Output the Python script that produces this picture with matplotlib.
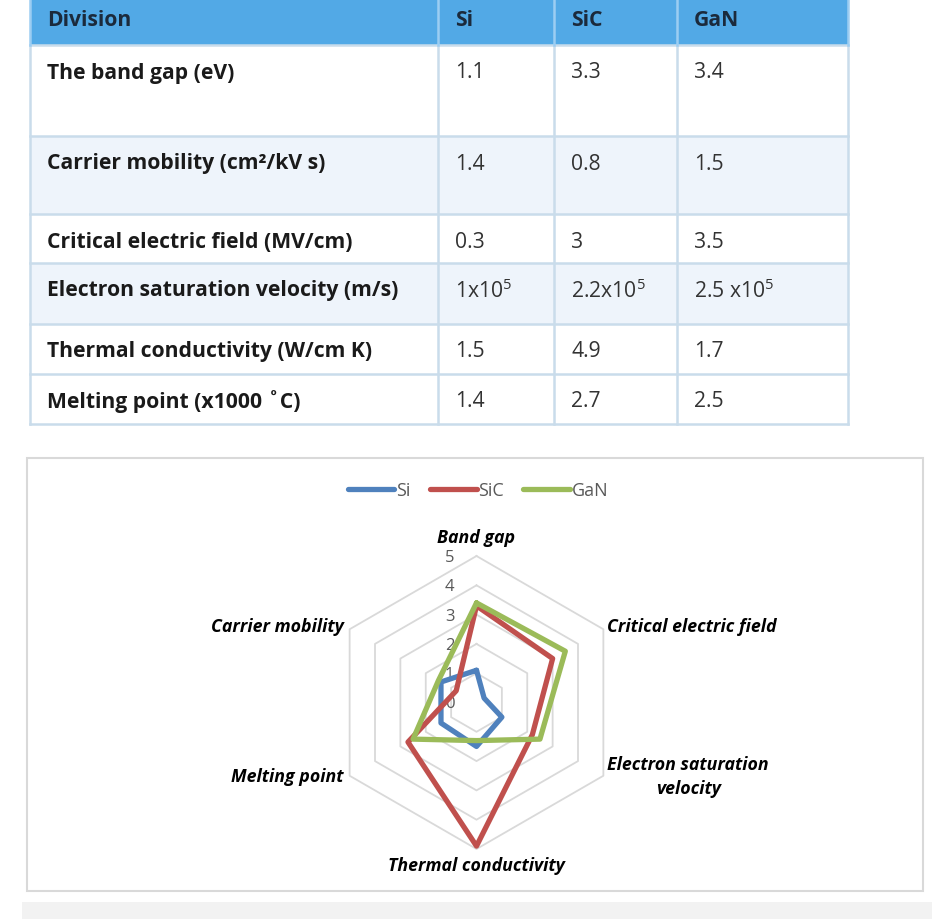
import numpy as np
import matplotlib
matplotlib.use("Agg")
import matplotlib.pyplot as plt
from matplotlib.patches import Rectangle

plt.rcParams['font.family'] = ['Open Sans', 'DejaVu Sans']

# ---- table data ----
header = ["Division", "Si", "SiC", "GaN"]
properties = ["The band gap (eV)", "Carrier mobility (cm²/kV s)",
              "Critical electric field (MV/cm)", "Electron saturation velocity (m/s)",
              "Thermal conductivity (W/cm K)", "Melting point (x1000 ˚C)"]
si_cells = ["1.1", "1.4", "0.3", r"1x10$^{\mathregular{5}}$", "1.5", "1.4"]
sic_cells = ["3.3", "0.8", "3", r"2.2x10$^{\mathregular{5}}$", "4.9", "2.7"]
gan_cells = ["3.4", "1.5", "3.5", r"2.5 x10$^{\mathregular{5}}$", "1.7", "2.5"]

# ---- radar data (as drawn in the chart) ----
spokes = ["Band gap", "Critical electric field", "Electron saturation\nvelocity",
          "Thermal conductivity", "Melting point", "Carrier mobility"]
series_names = ["Si", "SiC", "GaN"]
si = [1.1, 0.3, 1.0, 1.5, 1.4, 1.4]
sic = [3.3, 3.0, 2.2, 4.9, 2.7, 0.8]
gan = [3.4, 3.5, 2.5, 1.3, 2.5, 1.5]
ring_ticks = [0, 1, 2, 3, 4, 5]

# layout (pixels)
W, H = 932, 920
col_x = [30, 438, 554, 677, 848]
row_y = [-2, 46, 137, 215, 264, 325, 375, 425]
row_fill = ['#52A9E6', 'white', '#EEF4FB', 'white', '#EEF4FB', 'white', 'white']
grid_col = '#C9DCEB'
TFS = 15.2

fig = plt.figure(figsize=(W / 100, H / 100), dpi=100)
fig.patch.set_facecolor('white')

canvas = fig.add_axes([0, 0, 1, 1], zorder=0)
canvas.set_xlim(0, W)
canvas.set_ylim(H, 0)
canvas.axis('off')

# table cells
for i in range(len(row_y) - 1):
    canvas.add_patch(Rectangle((col_x[0], row_y[i]), col_x[-1] - col_x[0],
                               row_y[i + 1] - row_y[i], fc=row_fill[i], ec='none'))
for y in row_y[1:]:
    canvas.plot([col_x[0], col_x[-1]], [y, y], color=grid_col, lw=1.8)
for x in col_x:
    canvas.plot([x, x], [row_y[1], row_y[-1]], color=grid_col, lw=1.8)
    canvas.plot([x, x], [row_y[0], row_y[1]], color='#9CCDF2', lw=1.8)

rows = [header] + [[p, a, b, c] for p, a, b, c in zip(properties, si_cells, sic_cells, gan_cells)]
for i, row in enumerate(rows):
    ty = row_y[i] + (22 if i == 0 else 27)
    for j, txt in enumerate(row):
        if i == 0:
            canvas.text(col_x[j] + 17, ty, txt, fontsize=TFS, fontweight='bold',
                        color='#1B2A3C', va='center', ha='left')
        elif j == 0:
            canvas.text(col_x[j] + 17, ty, txt, fontsize=TFS, fontweight='bold',
                        color='#1a1a1a', va='center', ha='left')
        else:
            canvas.text(col_x[j] + 17, ty, txt, fontsize=TFS,
                        color='#333333', va='center', ha='left')

# chart frame and bottom strip
canvas.add_patch(Rectangle((27, 459), 896, 433, fc='none', ec='#D9D9D9', lw=1.5))
canvas.add_patch(Rectangle((22, 903), W - 22, 20, fc='#F2F2F2', ec='none'))

# ---- radar ----
cx, cy, R = 476.5, 703.5, 146.5
ax = fig.add_axes([(cx - R) / W, 1 - (cy + R) / H, 2 * R / W, 2 * R / H],
                  projection='polar', zorder=1)
ax.set_theta_offset(np.pi / 2)
ax.set_theta_direction(-1)
ax.set_ylim(0, 5)
ax.grid(False)
ax.set_xticks([])
ax.set_yticks([])
ax.spines['polar'].set_visible(False)
ax.patch.set_alpha(0)

n = len(spokes)
theta = np.arange(n) * 2 * np.pi / n
closed = np.append(theta, theta[0])

for r in ring_ticks[1:]:
    ax.plot(closed, [r] * (n + 1), color='#D9D9D9', lw=1.3, zorder=1, clip_on=False)

colors = ['#4F81BD', '#C0504D', '#9BBB59']
handles = []
for name, vals, c in zip(series_names, [si, sic, gan], colors):
    h, = ax.plot(closed, vals + vals[:1], color=c, lw=3.8, label=name,
                 solid_joinstyle='round', solid_capstyle='round', zorder=3, clip_on=False)
    handles.append(h)

for r in ring_ticks:
    ax.annotate(str(r), xy=(0, r), xytext=(-27, -1), textcoords='offset pixels',
                ha='center', va='center', color='#595959', fontsize=12, zorder=2)

label_pos = [((0, 19), 'center', 'center'),
             ((4, 3), 'left', 'center'),
             ((4, 0), 'left', 'center'),
             ((0, -16), 'center', 'center'),
             ((-6, 0), 'right', 'center'),
             ((-6, 3), 'right', 'center')]
for t, lab, (off, ha, va) in zip(theta, spokes, label_pos):
    ax.annotate(lab, xy=(t, 5), xytext=off, textcoords='offset pixels',
                ha=ha, va=va, multialignment='center', fontsize=12.8, linespacing=1.4,
                fontweight='bold', fontstyle='italic', color='black')

fig.legend(handles, series_names, loc='center', bbox_to_anchor=(478 / W, 1 - 491 / H),
           ncol=3, frameon=False, handlelength=2.6, handletextpad=0.1,
           columnspacing=1.05, fontsize=13, labelcolor='#595959')

fig.savefig('out.png', dpi=100)
